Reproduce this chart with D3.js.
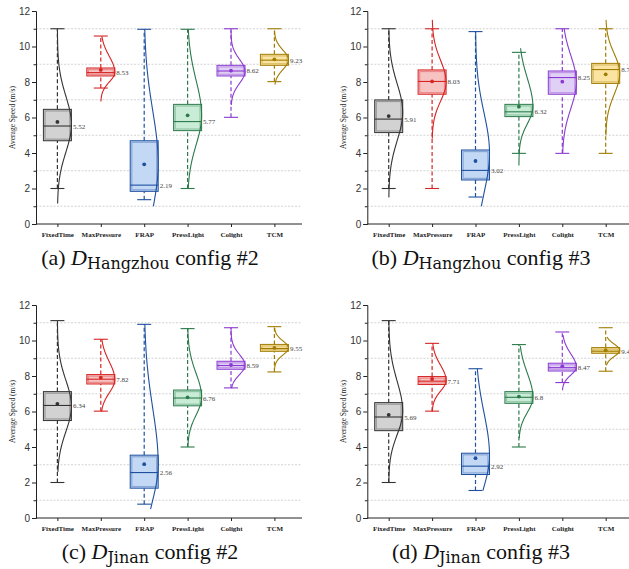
<!DOCTYPE html>
<html>
<head>
<meta charset="utf-8">
<script src="https://cdn.jsdelivr.net/npm/d3@7"></script>
<style>
  body { margin: 0; background: #fff; }
  svg { display: block; }
  .ytick text { font-family: "Liberation Sans", Arial, sans-serif; font-size: 10px; fill: #333; }
  .xtick text { font-family: "Liberation Serif", serif; font-size: 7px; font-weight: bold; fill: #222; }
  .ytitle { font-family: "Liberation Serif", serif; font-size: 7.5px; fill: #222; }
  .medlabel { font-family: "Liberation Serif", serif; font-size: 7px; fill: #444; }
  .caption { font-family: "Liberation Serif", serif; font-size: 22px; fill: #111; }
</style>
</head>
<body>
<script>
// categories and colours
var categories = ["FixedTime", "MaxPressure", "FRAP", "PressLight", "Colight", "TCM"];
var strokeColors = ["#333333", "#d62424", "#1f50a0", "#2b7a4b", "#8a3ad0", "#a07c00"];
var fillColors = ["#d2d2d2", "#f7c2c2", "#c2d8f4", "#c9ecd7", "#e1d0f5", "#fbe4a2"];
var yTicks = [0, 2, 4, 6, 8, 10, 12];
var gridVals = [1, 3, 5, 7, 9, 11];

// box stats per method: [whisker low, q1, median, q3, whisker high, mean]
var hz2Boxes = [
  [2.0, 4.69, 5.52, 6.46, 11.0, 5.75],
  [7.66, 8.34, 8.53, 8.79, 10.59, 8.68],
  [1.37, 1.84, 2.19, 4.69, 10.97, 3.36],
  [2.0, 5.26, 5.77, 6.74, 10.97, 6.12],
  [6.01, 8.34, 8.62, 8.94, 11.0, 8.64],
  [8.02, 8.94, 9.23, 9.56, 11.0, 9.28]
];
var hz3Boxes = [
  [2.0, 5.15, 5.91, 6.99, 11.0, 6.08],
  [2.0, 7.31, 8.03, 8.68, 11.0, 8.03],
  [1.52, 2.48, 3.02, 4.17, 10.84, 3.55],
  [3.98, 6.05, 6.32, 6.74, 9.67, 6.61],
  [3.98, 7.31, 8.25, 8.62, 11.0, 8.02],
  [3.98, 7.92, 8.7, 9.05, 11.0, 8.43]
];
var jn2Boxes = [
  [2.0, 5.49, 6.34, 7.12, 11.12, 6.43],
  [6.02, 7.55, 7.82, 8.08, 10.07, 7.91],
  [0.78, 1.68, 2.56, 3.54, 10.91, 3.03],
  [4.0, 6.32, 6.76, 7.21, 10.67, 6.8],
  [7.33, 8.38, 8.59, 8.83, 10.72, 8.62],
  [8.23, 9.39, 9.55, 9.78, 10.78, 9.58]
];
var jn3Boxes = [
  [2.0, 4.92, 5.69, 6.5, 11.12, 5.81],
  [6.02, 7.52, 7.71, 7.97, 9.84, 7.83],
  [1.55, 2.45, 2.92, 3.65, 8.41, 3.37],
  [4.0, 6.46, 6.8, 7.12, 9.77, 6.84],
  [7.63, 8.28, 8.47, 8.72, 10.48, 8.55],
  [8.27, 9.28, 9.4, 9.6, 10.72, 9.45]
];

// half density curves: [centre, spread below, spread above, from, to]
var hz2Curves = [
  [5.6, 1.55, 1.6, 1.15, 11.0],
  [8.55, 0.55, 0.9, 6.9, 10.59],
  [3.4, 2.6, 3.0, 1.0, 10.97],
  [6.1, 1.65, 2.0, 2.0, 10.97],
  [8.6, 0.68, 0.68, 6.7, 10.9],
  [9.25, 0.55, 0.55, 7.85, 10.9]
];
var hz3Curves = [
  [6.3, 1.6, 1.6, 1.5, 11.0],
  [8.0, 1.08, 1.22, 4.8, 11.5],
  [4.0, 2.27, 2.27, 1.0, 10.84],
  [6.6, 0.95, 1.6, 3.3, 9.9],
  [8.0, 1.5, 1.5, 4.0, 11.0],
  [8.5, 1.2, 1.1, 5.0, 11.5]
];
var jn2Curves = [
  [6.3, 1.43, 1.46, 2.6, 11.1],
  [7.8, 0.75, 1.0, 6.0, 10.07],
  [3.0, 2.0, 3.2, 0.5, 10.9],
  [6.8, 1.0, 1.35, 4.0, 10.67],
  [8.6, 0.52, 0.61, 7.3, 10.72],
  [9.58, 0.4, 0.4, 8.4, 10.7]
];
var jn3Curves = [
  [6.0, 1.3, 1.7, 2.0, 11.1],
  [7.75, 0.6, 0.85, 6.0, 9.84],
  [3.5, 1.74, 2.43, 1.55, 8.41],
  [6.8, 0.85, 1.35, 4.5, 9.7],
  [8.5, 0.45, 0.75, 7.2, 10.3],
  [9.45, 0.35, 0.35, 8.6, 10.2]
];

var svg = d3.select("body").append("svg")
  .attr("width", 629).attr("height", 569);

var plotW = 266, plotH = 213, boxHalf = 14;

function drawPanel(left, top, boxes, curves, tag, sub, conf, capX) {
  var g = svg.append("g");
  var y = d3.scaleLinear().domain([0, 12]).range([top + plotH, top]);
  var x = d3.scalePoint().domain(categories).range([left + 21.4, left + 21.4 + 5 * 43.4]);

  // dashed grid on odd values
  g.selectAll(".grid").data(gridVals).enter().append("line")
    .attr("x1", left).attr("x2", left + plotW)
    .attr("y1", function (d) { return y(d); }).attr("y2", function (d) { return y(d); })
    .attr("stroke", "#c8c8c8").attr("stroke-width", 0.8).attr("stroke-dasharray", "2,1.5");

  // y axis
  var yAxis = g.append("g").attr("class", "ytick")
    .attr("transform", "translate(" + left + ",0)")
    .call(d3.axisLeft(y).tickValues(yTicks).tickSize(4).tickPadding(2));
  yAxis.select(".domain").attr("stroke", "#222");
  yAxis.selectAll("line").attr("stroke", "#222");
  g.append("g").attr("transform", "translate(" + left + ",0)")
    .call(d3.axisLeft(y).tickValues(gridVals).tickSize(2.5).tickFormat(""))
    .call(function (s) { s.select(".domain").remove(); s.selectAll("line").attr("stroke", "#222"); });

  // x axis
  g.append("line").attr("x1", left).attr("x2", left + plotW)
    .attr("y1", y(0)).attr("y2", y(0)).attr("stroke", "#222");
  var xAxis = g.append("g").attr("class", "xtick")
    .attr("transform", "translate(0," + y(0) + ")")
    .call(d3.axisBottom(x).tickSize(3).tickPadding(5));
  xAxis.select(".domain").remove();
  xAxis.selectAll("line").attr("stroke", "#222");

  g.append("text").attr("class", "ytitle")
    .attr("transform", "translate(" + (left - 21) + "," + (top + plotH / 2) + ") rotate(-90)")
    .attr("text-anchor", "middle").text("Average Speed (m/s)");

  boxes.forEach(function (b, i) {
    var cx = x(categories[i]);
    var sc = strokeColors[i], fc = fillColors[i];
    // whiskers
    [[b[0], b[1]], [b[3], b[4]]].forEach(function (w) {
      g.append("line").attr("x1", cx).attr("x2", cx)
        .attr("y1", y(w[0])).attr("y2", y(w[1]))
        .attr("stroke", sc).attr("stroke-width", 1.2).attr("stroke-dasharray", "4,2.5");
    });
    [b[0], b[4]].forEach(function (v) {
      g.append("line").attr("x1", cx - 7).attr("x2", cx + 7)
        .attr("y1", y(v)).attr("y2", y(v))
        .attr("stroke", sc).attr("stroke-width", 1.1);
    });
    // box
    g.append("rect").attr("x", cx - boxHalf).attr("y", y(b[3]))
      .attr("width", 2 * boxHalf).attr("height", y(b[1]) - y(b[3]))
      .attr("fill", fc).attr("stroke", sc).attr("stroke-width", 1);
    g.append("rect").attr("x", cx - boxHalf + 1.6).attr("y", y(b[3]) + 1.6)
      .attr("width", 2 * boxHalf - 3.2).attr("height", Math.max(0, y(b[1]) - y(b[3]) - 3.2))
      .attr("fill", "none").attr("stroke", sc).attr("stroke-opacity", 0.35).attr("stroke-width", 1.2);
    g.append("line").attr("x1", cx - boxHalf).attr("x2", cx + boxHalf)
      .attr("y1", y(b[2])).attr("y2", y(b[2]))
      .attr("stroke", sc).attr("stroke-width", 1.1);

    // half density curve on the right
    var c = curves[i];
    var pts = d3.range(0, 81).map(function (k) {
      var v = c[3] + (c[4] - c[3]) * k / 80;
      var s = v < c[0] ? c[1] : c[2];
      return [cx + boxHalf * Math.exp(-(v - c[0]) * (v - c[0]) / (2 * s * s)), y(v)];
    });
    g.append("path").attr("d", d3.line().curve(d3.curveBasis)(pts))
      .attr("fill", "none").attr("stroke", sc).attr("stroke-width", 1.1);

    // mean
    g.append("circle").attr("cx", cx).attr("cy", y(b[5])).attr("r", 1.9).attr("fill", sc);

    g.append("text").attr("class", "medlabel")
      .attr("x", cx + boxHalf + 1.5).attr("y", y(b[2]) + 2.5)
      .text(String(b[2]));
  });

  // caption
  var cap = svg.append("text").attr("class", "caption")
    .attr("x", capX).attr("y", top + plotH + 41).attr("text-anchor", "middle");
  cap.append("tspan").text(tag + " ");
  cap.append("tspan").attr("font-style", "italic").text("D");
  cap.append("tspan").attr("font-family", "DejaVu Serif, serif").attr("font-size", "16px")
    .attr("dy", 4).text(sub);
  cap.append("tspan").attr("dy", -4).text(" config " + conf);
}

drawPanel(36, 11, hz2Boxes, hz2Curves, "(a)", "Hangzhou", "#2", 150);
drawPanel(367.3, 11, hz3Boxes, hz3Curves, "(b)", "Hangzhou", "#3", 481);
drawPanel(36, 305, jn2Boxes, jn2Curves, "(c)", "Jinan", "#2", 150);
drawPanel(367.3, 305, jn3Boxes, jn3Curves, "(d)", "Jinan", "#3", 481);
</script>
</body>
</html>
